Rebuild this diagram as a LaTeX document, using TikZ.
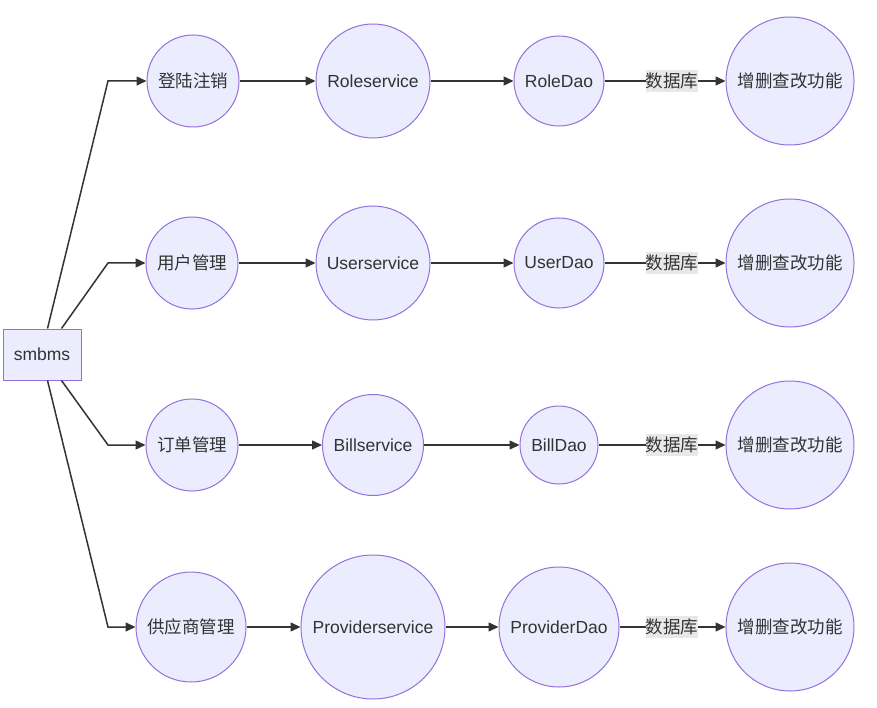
\documentclass[tikz,border=0pt]{standalone}
\usepackage{fontspec}
\setmainfont{Liberation Sans}
\newfontfamily\cjk{Noto Sans CJK SC}
\usetikzlibrary{arrows.meta}
\definecolor{nodefill}{HTML}{ECECFF}
\definecolor{nodeline}{HTML}{9370DB}
\definecolor{edgecol}{HTML}{333333}
\definecolor{lblbg}{HTML}{E8E8E8}
\definecolor{txt}{HTML}{333333}
\begin{document}
\begin{tikzpicture}[x=1pt,y=-1pt,
  circ/.style={circle,draw=nodeline,fill=nodefill,line width=1pt,inner sep=0pt,text=txt,font=\fontsize{17.5}{20}\selectfont,minimum size=#1},
  cn/.style={font=\cjk\fontsize{17.5}{20}\selectfont},
  rbox/.style={rectangle,draw=nodeline,fill=nodefill,line width=1pt,inner sep=0pt,text=txt,font=\fontsize{17.5}{20}\selectfont,minimum width=78pt,minimum height=51pt},
  lbl/.style={fill=lblbg,inner sep=0pt,text=txt,font=\cjk\fontsize{17.5}{20}\selectfont,minimum height=22pt},
  arr/.style={draw=edgecol,line width=1.5pt,-{Triangle[length=10pt,width=9pt]}},
  ln/.style={draw=edgecol,line width=1.5pt}
]
\useasboundingbox (0,0) rectangle (877,708);
\node[rbox] (s) at (42,354.5) {smbms};
% row 1
\node[circ=92pt,cn] (a1) at (193,81) {登陆注销};
\node[circ=114pt] (b1) at (373,81) {Roleservice};
\node[circ=90pt] (c1) at (559,81) {RoleDao};
\node[circ=128pt,cn] (d1) at (790,81) {增删查改功能};
% row 2
\node[circ=92pt,cn] (a2) at (192,263) {用户管理};
\node[circ=114pt] (b2) at (373,263) {Userservice};
\node[circ=90pt] (c2) at (559,263) {UserDao};
\node[circ=128pt,cn] (d2) at (790,263) {增删查改功能};
% row 3
\node[circ=92pt,cn] (a3) at (192,445) {订单管理};
\node[circ=101pt] (b3) at (373,445) {Billservice};
\node[circ=78pt] (c3) at (559,445) {BillDao};
\node[circ=128pt,cn] (d3) at (790,445) {增删查改功能};
% row 4
\node[circ=110pt,cn] (a4) at (191,627) {供应商管理};
\node[circ=144pt] (b4) at (373,627) {Providerservice};
\node[circ=120pt] (c4) at (559,627) {ProviderDao};
\node[circ=128pt,cn] (d4) at (790,627) {增删查改功能};
% labels
\node[lbl] (l1) at (672,81) {数据库};
\node[lbl] (l2) at (672,263) {数据库};
\node[lbl] (l3) at (672,445) {数据库};
\node[lbl] (l4) at (672,627) {数据库};
% bends
\coordinate (k1) at (108,81);
\coordinate (k2) at (108,263);
\coordinate (k3) at (108,445);
\coordinate (k4) at (108,627);
\draw[arr] ([xshift=45pt]s.north west) -- (k1) -- (a1);
\draw[arr] ([xshift=59pt]s.north west) -- (k2) -- (a2);
\draw[arr] ([xshift=59pt]s.south west) -- (k3) -- (a3);
\draw[arr] ([xshift=45pt]s.south west) -- (k4) -- (a4);
\foreach \i in {1,2,3,4}{
  \draw[arr] (a\i) -- (b\i);
  \draw[arr] (b\i) -- (c\i);
  \draw[ln] (c\i) -- (l\i);
  \draw[arr] (l\i) -- (d\i);
}
\end{tikzpicture}
\end{document}
